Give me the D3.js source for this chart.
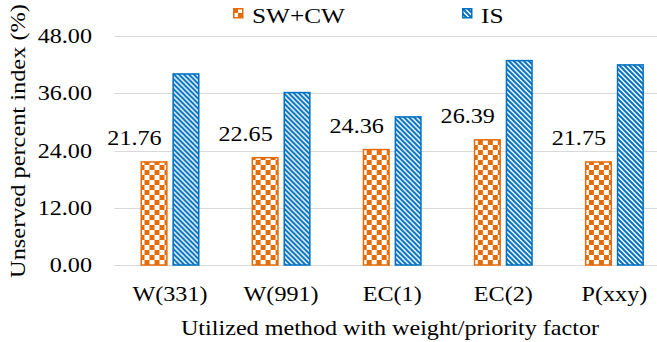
<!DOCTYPE html>
<html>
<head>
<meta charset="utf-8">
<script src="https://cdn.jsdelivr.net/npm/d3@7"></script>
<style>
  html, body { margin: 0; padding: 0; background: #fff; }
  svg { display: block; }
  svg text { font-family: 'Liberation Serif', 'Times New Roman', Times, serif; fill: #000; }
</style>
</head>
<body>
<div id="graph-container"></div>
<script>
const categories = ['W(331)', 'W(991)', 'EC(1)', 'EC(2)', 'P(xxy)'];
const seriesNames = ['SW+CW', 'IS'];
const swcwValues = [21.76, 22.65, 24.36, 26.39, 21.75];
const isValues = [40.2, 36.3, 31.2, 43.0, 42.1];
const yTicks = [0, 12, 24, 36, 48];

const main = () => {
  const width = 657;
  const height = 342;
  const ORANGE = '#E46C0A';
  const BLUE = '#0070C0';
  const STRETCH = 1.15; // the serif text runs a bit wide

  const plot = { left: 114.5, right: 670, top: 36, bottom: 265 };

  const svg = d3.select('#graph-container').selectAll('svg#svg-container')
    .data([1])
    .join('svg')
    .attr('id', 'svg-container')
    .attr('width', width)
    .attr('height', height)
    .attr('style', 'background:white');

  // fill patterns: checker for SW+CW, diagonal hatch for IS
  const defs = svg.append('defs');
  const checker = defs.append('pattern')
    .attr('id', 'checker')
    .attr('patternUnits', 'userSpaceOnUse')
    .attr('width', 10).attr('height', 10);
  checker.append('rect').attr('width', 10).attr('height', 10).attr('fill', '#fff');
  checker.append('rect').attr('width', 5).attr('height', 5).attr('fill', ORANGE);
  checker.append('rect').attr('x', 5).attr('y', 5).attr('width', 5).attr('height', 5).attr('fill', ORANGE);

  const hatch = defs.append('pattern')
    .attr('id', 'hatch')
    .attr('patternUnits', 'userSpaceOnUse')
    .attr('width', 5).attr('height', 5);
  hatch.append('rect').attr('width', 5).attr('height', 5).attr('fill', '#fff');
  hatch.append('path')
    .attr('d', 'M-1,-1 L6,6 M-1,4 L1,6 M4,-1 L6,1')
    .attr('stroke', BLUE)
    .attr('stroke-width', 2);

  const xScale = d3.scaleBand().domain(categories).range([plot.left, plot.right]);
  const xSub = d3.scaleBand().domain(seriesNames).range([26, 85]).paddingInner(0.15);
  const yScale = d3.scaleLinear().domain([0, 48]).range([plot.bottom, plot.top]);

  const fills = { 'SW+CW': 'url(#checker)', 'IS': 'url(#hatch)' };
  const strokes = { 'SW+CW': ORANGE, 'IS': BLUE };

  // gridlines
  svg.selectAll('line.grid')
    .data(yTicks)
    .join('line')
    .attr('class', 'grid')
    .attr('x1', plot.left).attr('x2', plot.right)
    .attr('y1', d => Math.round(yScale(d)) + 0.5)
    .attr('y2', d => Math.round(yScale(d)) + 0.5)
    .attr('stroke', '#D9D9D9')
    .attr('stroke-width', 1);

  // y tick labels
  svg.selectAll('text.y-tick')
    .data(yTicks)
    .join('text')
    .attr('class', 'y-tick')
    .attr('transform', d => `translate(92,${yScale(d) + 7}) scale(${STRETCH},1)`)
    .attr('text-anchor', 'end')
    .attr('font-size', 21)
    .text(d => d.toFixed(2));

  const rows = categories.map((c, i) => ({ cat: c, values: { 'SW+CW': swcwValues[i], 'IS': isValues[i] } }));

  const groups = svg.selectAll('g.category')
    .data(rows)
    .join('g')
    .attr('class', 'category')
    .attr('transform', d => `translate(${xScale(d.cat)},0)`);

  groups.selectAll('rect.bar')
    .data(d => seriesNames.map(s => ({ s, v: d.values[s] })))
    .join('rect')
    .attr('class', 'bar')
    .attr('x', d => xSub(d.s) + 0.75)
    .attr('y', d => yScale(d.v) + 0.75)
    .attr('width', xSub.bandwidth() - 1.5)
    .attr('height', d => yScale(0) - yScale(d.v) - 0.75)
    .attr('fill', d => fills[d.s])
    .attr('stroke', d => strokes[d.s])
    .attr('stroke-width', 1.5);

  // SW+CW value labels sit up and to the left of the bar
  groups.selectAll('text.value')
    .data(d => [d.values['SW+CW']])
    .join('text')
    .attr('class', 'value')
    .attr('transform', d => `translate(${xSub('SW+CW') + xSub.bandwidth() - 6},${yScale(d) - 16}) scale(${STRETCH},1)`)
    .attr('text-anchor', 'end')
    .attr('font-size', 21)
    .text(d => d.toFixed(2));

  // category labels
  svg.selectAll('text.x-tick')
    .data(categories)
    .join('text')
    .attr('class', 'x-tick')
    .attr('transform', d => `translate(${xScale(d) + 55.5},${301}) scale(${STRETCH},1)`)
    .attr('text-anchor', 'middle')
    .attr('font-size', 21)
    .text(d => d);

  // axis titles
  svg.append('text')
    .attr('transform', `translate(390,335) scale(${STRETCH},1)`)
    .attr('text-anchor', 'middle')
    .attr('font-size', 21)
    .text('Utilized method with weight/priority factor');

  svg.append('text')
    .attr('transform', `translate(25,141) rotate(-90) scale(1.16,1)`)
    .attr('text-anchor', 'middle')
    .attr('font-size', 21)
    .text('Unserved percent index (%)');

  // legend
  const legendItems = [
    { name: 'SW+CW', x: 233 },
    { name: 'IS', x: 462 }
  ];
  const legend = svg.selectAll('g.legend-item')
    .data(legendItems)
    .join('g')
    .attr('class', 'legend-item')
    .attr('transform', d => `translate(${d.x},8)`);

  legend.append('rect')
    .attr('x', 0.75).attr('y', 0.75)
    .attr('width', 9).attr('height', 9)
    .attr('fill', d => fills[d.name])
    .attr('stroke', d => strokes[d.name])
    .attr('stroke-width', 1.5);

  legend.append('text')
    .attr('transform', `translate(19,14.5) scale(${STRETCH},1)`)
    .attr('font-size', 22)
    .text(d => d.name);
};

main();
</script>
</body>
</html>
